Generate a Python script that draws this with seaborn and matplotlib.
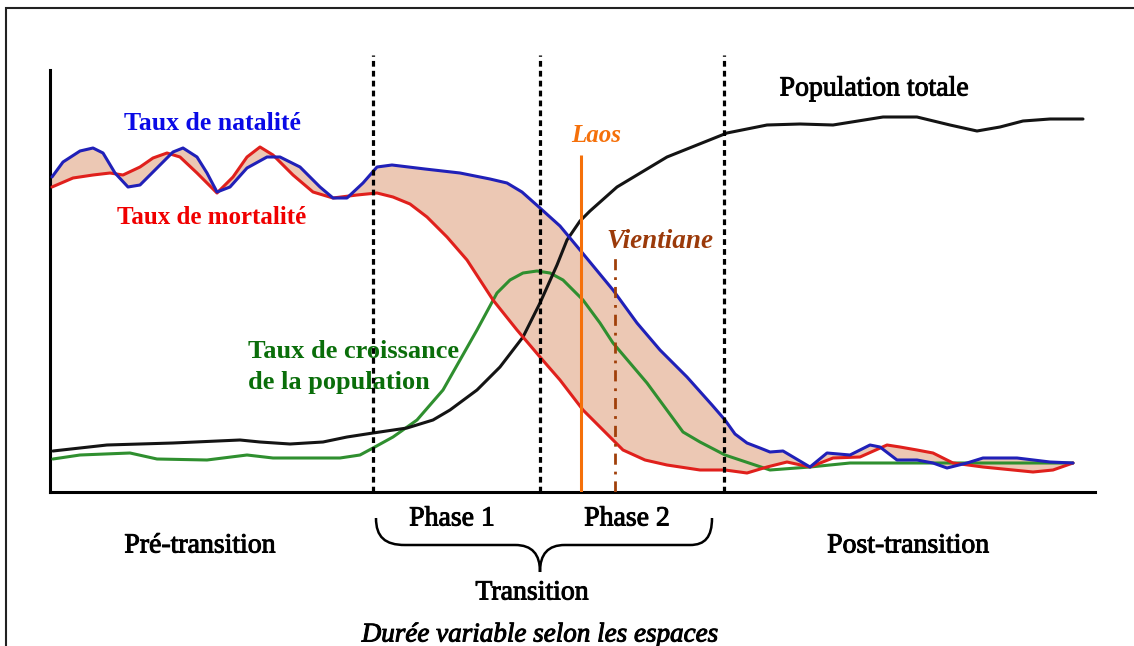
import numpy as np
import pandas as pd
import matplotlib
matplotlib.use("Agg")
import matplotlib.pyplot as plt
import matplotlib.patheffects as pe
import seaborn as sns
from matplotlib.path import Path
from matplotlib.patches import PathPatch, Rectangle

natal_x = [52, 63, 80, 93, 103, 115, 128, 140, 157, 173, 183, 197, 207, 217, 230, 247, 267, 280, 300, 320,
           333, 347, 363, 377, 392, 425, 460, 490, 507, 522, 540, 560, 580, 613, 637, 660, 687, 712, 725, 735,
           747, 760, 770, 783, 810, 827, 850, 870, 880, 897, 917, 933, 947, 967, 983, 1017, 1050, 1073]
natal_y = [315, 330, 341, 344, 339, 319, 305, 307, 324, 340, 344, 335, 319, 300, 305, 324, 335, 335, 325, 305,
           294, 294, 309, 325, 327, 323, 319, 313, 309, 300, 284, 266, 242, 202, 169, 142, 115, 87, 72, 58,
           49, 44, 40, 41, 25, 39, 37, 47, 45, 32, 32, 29, 24, 29, 34, 34, 30, 29]

mort_x = [52, 73, 93, 110, 123, 140, 153, 167, 180, 197, 217, 233, 247, 260, 273, 293, 313, 333, 357, 377,
          393, 410, 427, 447, 467, 493, 517, 540, 560, 583, 605, 623, 645, 667, 700, 725, 747, 767, 787, 810,
          833, 860, 887, 900, 917, 933, 953, 983, 1033, 1053, 1073]
mort_y = [305, 314, 317, 319, 317, 325, 334, 339, 335, 319, 299, 315, 335, 345, 337, 317, 300, 294, 297, 299,
          295, 288, 275, 255, 232, 192, 162, 135, 112, 82, 60, 42, 32, 27, 22, 22, 19, 25, 30, 25,
          34, 35, 47, 45, 42, 39, 29, 25, 20, 22, 29]

crois_x = [53, 80, 130, 157, 207, 247, 273, 340, 360, 373, 393, 410, 417, 443, 460, 477, 497, 510, 523, 537,
           550, 563, 583, 600, 613, 647, 683, 700, 725, 770, 810, 850, 900, 967, 1033, 1073]
crois_y = [33, 37, 39, 33, 32, 37, 34, 34, 37, 44, 55, 67, 72, 102, 132, 162, 199, 212, 219, 221,
           219, 212, 192, 169, 149, 109, 60, 50, 37, 22, 25, 29, 29, 29, 29, 29]

pop_x = [53, 107, 173, 240, 260, 290, 323, 347, 373, 407, 433, 450, 477, 500, 523, 540, 557, 567, 580, 590,
         617, 667, 727, 767, 800, 833, 883, 917, 950, 977, 1000, 1023, 1050, 1083]
pop_y = [41, 47, 49, 52, 50, 48, 50, 55, 59, 64, 72, 82, 102, 125, 155, 189, 227, 252, 271, 281,
         305, 335, 359, 367, 368, 367, 375, 375, 367, 361, 365, 371, 373, 373]

phase_bounds = [373, 540, 724]
laos_x, laos_top = 581, 337
vient_x, vient_top = 615, 237

sns.set_theme(style="white")
plt.rcParams["font.family"] = ["Liberation Serif", "DejaVu Serif"]

fig = plt.figure(figsize=(11.34, 6.46), dpi=100)
ax = fig.add_axes([50 / 1134, 154 / 646, 1045 / 1134, 440 / 646])
ax.set_xlim(50, 1095)
ax.set_ylim(0, 440)

# shaded gap between birth and death rates
poly_x = np.concatenate([natal_x, mort_x[::-1]])
poly_y = np.concatenate([natal_y, mort_y[::-1]])
ax.fill(poly_x, poly_y, color="#ecc8b4", lw=0, zorder=1)

lines = [
    (crois_x, crois_y, "#2f8f2f"),
    (pop_x, pop_y, "#141414"),
    (mort_x, mort_y, "#e0201c"),
    (natal_x, natal_y, "#2020b8"),
]
for xs, ys, col in lines:
    sns.lineplot(x=xs, y=ys, color=col, lw=2.2, sort=False, estimator=None, ax=ax, zorder=3)
for ln in ax.lines:
    ln.set_solid_joinstyle("round")

ax.vlines(phase_bounds, 0, 437, colors="black", lw=2.3, linestyles=(0, (1.8, 1.3)), zorder=4, clip_on=False)
ax.vlines(laos_x, 0, laos_top, colors="#f5700a", lw=2.2, zorder=5)
ax.vlines(vient_x, 0, vient_top, colors="#a0400a", lw=2.0, linestyles=(0, (4, 2.5, 1, 2.5)), zorder=5)

for side in ["top", "right"]:
    ax.spines[side].set_visible(False)
ax.spines["left"].set_bounds(0, 422)
for side in ["left", "bottom"]:
    ax.spines[side].set_color("black")
    ax.spines[side].set_linewidth(2.2)
ax.set_xticks([])
ax.set_yticks([])

def label(x, y, s, color="black", size=20, weight="normal", style="normal", ha="center", **kw):
    t = ax.text(x, y, s, color=color, fontsize=size, fontweight=weight, fontstyle=style,
                ha=ha, va="center", clip_on=False, **kw)
    if weight == "normal":
        # the source uses a heavier book face; thicken the strokes a little
        t.set_path_effects([pe.withStroke(linewidth=0.7, foreground=color)])

label(212, 368, "Taux de natalité", color="#0a0ae6", weight="bold", size=18.5)
label(212, 274, "Taux de mortalité", color="#f00000", weight="bold", size=18)
label(874, 403, "Population totale")
label(596, 356, "Laos", color="#f5700a", weight="bold", style="italic", size=18)
label(660, 251, "Vientiane", color="#9b3a0a", weight="bold", style="italic", size=19.5)
label(248, 125, "Taux de croissance\nde la population", color="#0a6e0a", weight="bold", ha="left",
      size=19, linespacing=1.45)
label(452, -27, "Phase 1")
label(627, -27, "Phase 2")
label(200, -54, "Pré-transition")
label(908, -54, "Post-transition")
label(532, -101, "Transition")
label(540, -143, "Durée variable selon les espaces", style="italic", size=19.5)

# curly brace under the transition phases
verts = [(376, -26), (376, -45), (385, -53), (405, -53), (515, -53),
         (532, -53), (540, -62), (540, -80),
         (540, -62), (548, -53), (565, -53), (690, -53),
         (705, -53), (712, -45), (712, -26)]
codes = [Path.MOVETO, Path.CURVE4, Path.CURVE4, Path.CURVE4, Path.LINETO,
         Path.CURVE4, Path.CURVE4, Path.CURVE4,
         Path.CURVE4, Path.CURVE4, Path.CURVE4, Path.LINETO,
         Path.CURVE4, Path.CURVE4, Path.CURVE4]
ax.add_patch(PathPatch(Path(verts, codes), fill=False, lw=1.8, ec="black", clip_on=False))

fig.patches.append(Rectangle((6 / 1134, -0.1), 2, 0.1 + 638 / 646, transform=fig.transFigure,
                             fill=False, lw=1.5, ec="#222222"))

fig.savefig("out.png", dpi=100)
